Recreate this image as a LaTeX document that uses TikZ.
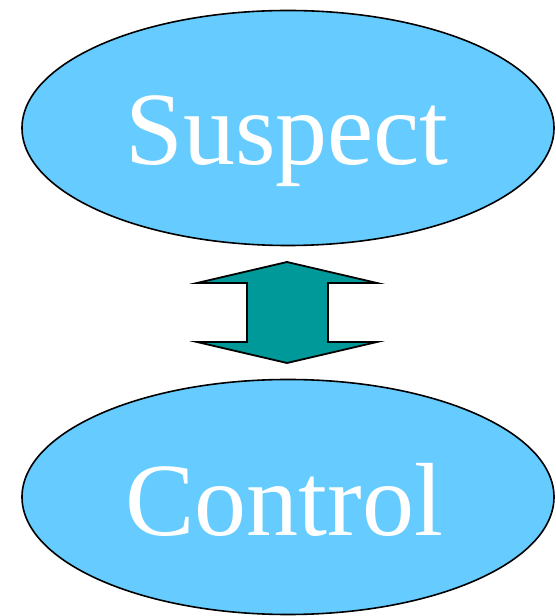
\documentclass[tikz,border=0pt]{standalone}
\usepackage{fontspec}
\setmainfont{Liberation Serif}
\usetikzlibrary{shapes.geometric}
\definecolor{ellfill}{HTML}{66CCFF}
\definecolor{arrfill}{HTML}{009999}
\begin{document}
\begin{tikzpicture}[x=1pt,y=1pt,
  oval/.style={ellipse, draw=black, line width=1.6pt, fill=ellfill, minimum width=532pt, minimum height=235pt, inner sep=0pt},
  lbl/.style={text=white, font=\fontsize{104}{110}\selectfont, anchor=base, inner sep=0pt}]
\useasboundingbox (0,0) rectangle (556,616);
\node[oval] (top) at (288,488) {};
\node[oval] (bot) at (288,119) {};
\node[lbl] (ts) at (287,451) {Suspect};
\node[lbl] (tc) at (284,80) {Control};
\draw[fill=arrfill, line width=1.8pt, line join=miter]
  (287,354) -- (377,333) -- (328,333) -- (328,274) -- (377,274) -- (287,253)
  -- (197,274) -- (247,274) -- (247,333) -- (197,333) -- cycle;
\end{tikzpicture}
\end{document}
